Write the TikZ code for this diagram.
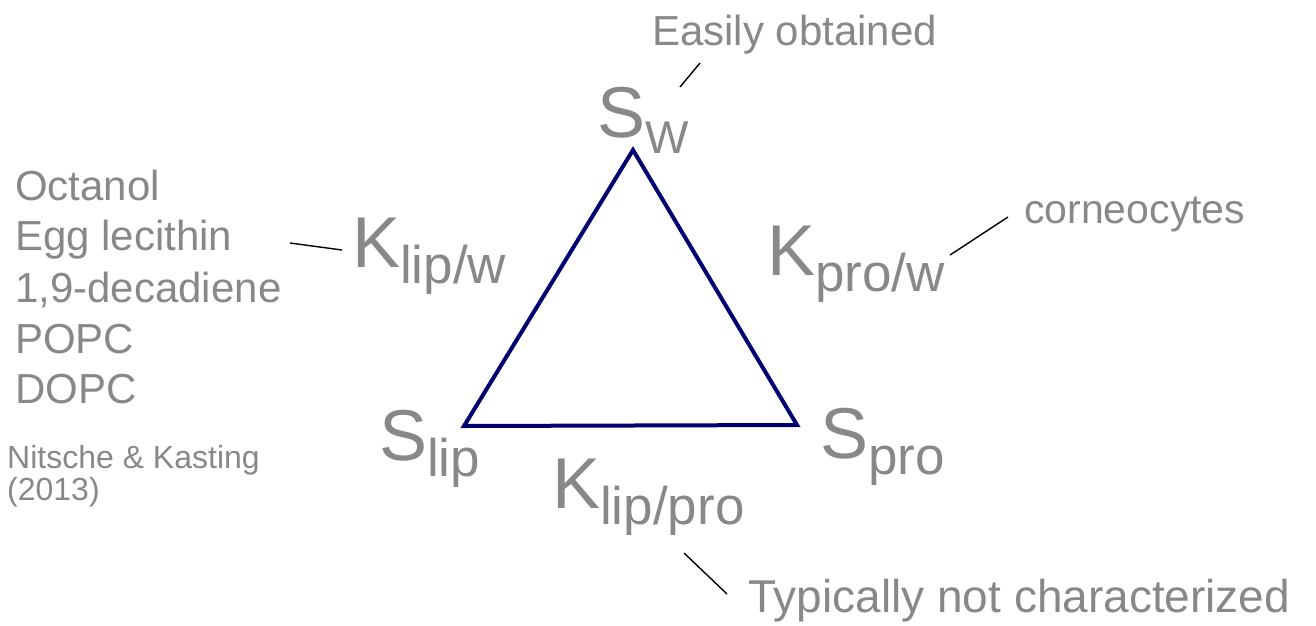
\documentclass[tikz,border=0pt]{standalone}
\usepackage{fontspec}
\setmainfont{Liberation Sans}
\usetikzlibrary{positioning}
\definecolor{labelgray}{RGB}{136,136,136}
\definecolor{trinavy}{RGB}{0,0,112}
\newcommand{\lowsub}[2][53]{\raisebox{-16.5pt}{\fontsize{#1}{#1}\selectfont #2}}

\begin{document}
\begin{tikzpicture}[x=1pt,y=-1pt,
    sym/.style={anchor=base west, inner sep=0pt, text=labelgray, font=\fontsize{72}{72}\selectfont},
    note/.style={anchor=base west, inner sep=0pt, text=labelgray, font=\fontsize{42}{42}\selectfont},
    cite/.style={anchor=base west, inner sep=0pt, text=labelgray, font=\fontsize{32}{32}\selectfont},
    tri/.style={draw=trinavy, line width=4pt, line join=miter},
    ld/.style={draw=black, line width=1.4pt},
  ]
  \useasboundingbox (0,0) rectangle (1316,625);
  % triangle
  \coordinate (top) at (633,150);
  \coordinate (lft) at (464,426);
  \coordinate (rgt) at (797,425);
  \draw[tri] (top) -- (lft) -- (rgt) -- cycle;
  % corner and side symbols
  \node[sym] (Sw)  at (597,137) {S\lowsub[46]{W}};
  \node[sym] (Slp) at (379,460) {S\lowsub{lip}};
  \node[sym] (Spr) at (820,458) {S\lowsub{pro}};
  \node[sym] (Klw) at (352,267) {K\lowsub{lip/w}};
  \node[sym] (Kpw) at (767,275) {K\lowsub{pro/w}};
  \node[sym] (Klp) at (552,508) {K\lowsub{lip/pro}};
  % notes
  \node[note] (easy) at (652,45) {Easily obtained};
  \foreach \t/\y [count=\i] in {Octanol/200, Egg lecithin/250, {1,9-decadiene}/302, POPC/353, DOPC/403}
    \node[note] (mat\i) at (15,\y) {\t};
  \node[cite] (ref1) at (7,468) {Nitsche \& Kasting};
  \node[cite] (ref2) at (7,500) {(2013)};
  \node[note, font=\fontsize{41}{41}\selectfont] (corn) at (1024,223) {corneocytes};
  \node[note, font=\fontsize{46}{46}\selectfont] (typ) at (748,612) {Typically not characterized};
  % leader lines
  \coordinate (a1) at (680,87);   \coordinate (a2) at (700,63);
  \coordinate (b1) at (290,243);  \coordinate (b2) at (342,250);
  \coordinate (c1) at (950,255);  \coordinate (c2) at (1008,217);
  \coordinate (d1) at (684,553);  \coordinate (d2) at (727,594);
  \draw[ld] (a1) -- (a2);
  \draw[ld] (b1) -- (b2);
  \draw[ld] (c1) -- (c2);
  \draw[ld] (d1) -- (d2);
\end{tikzpicture}
\end{document}
